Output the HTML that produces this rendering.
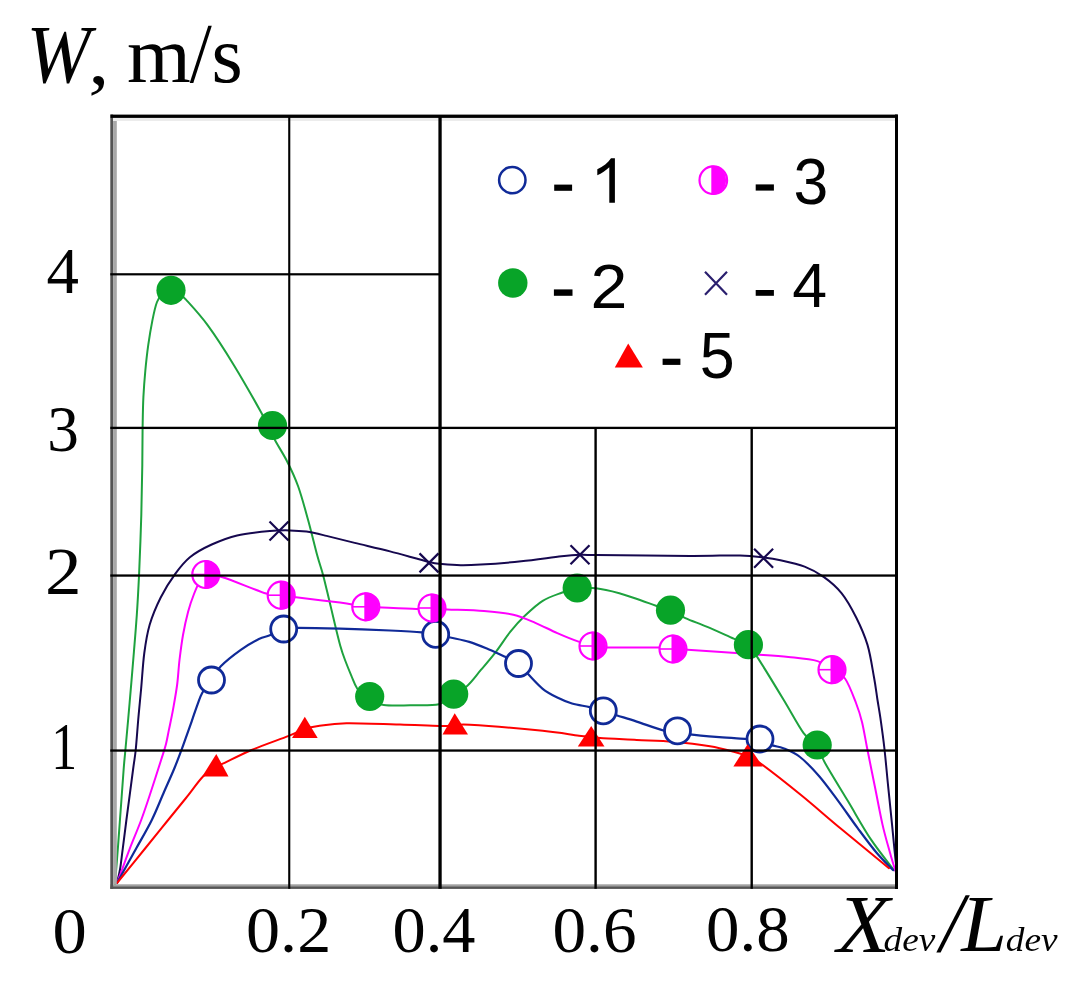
<!DOCTYPE html>
<html><head><meta charset="utf-8"><title>W chart</title><style>
html,body{margin:0;padding:0;background:#fff;}
body{width:1091px;height:991px;overflow:hidden;position:relative;}
svg{position:absolute;left:0;top:0;display:block;}
.serif{font-family:"Liberation Serif",serif;}
.sans{font-family:"Liberation Sans",sans-serif;}
</style></head><body>
<svg width="1091" height="991" viewBox="0 0 1091 991">
<rect x="0" y="0" width="1091" height="991" fill="#fff"/>
<path d="M115.0,884.0 C115.5,878.0 117.1,858.3 117.9,848.0 C118.7,837.7 118.8,835.0 119.8,822.0 C120.8,809.0 122.7,781.8 123.6,770.0 C124.5,758.2 124.3,762.2 125.3,751.0 C126.3,739.8 128.2,719.5 129.6,703.0 C131.0,686.5 132.7,666.7 133.9,652.0 C135.1,637.3 135.9,628.0 136.8,615.0 C137.7,602.0 138.3,590.7 139.1,574.0 C139.8,557.3 140.8,533.2 141.3,515.0 C141.8,496.8 142.1,479.5 142.3,465.0 C142.5,450.5 142.4,439.3 142.6,428.0 C142.8,416.7 142.9,406.5 143.4,397.0 C143.9,387.5 144.5,379.7 145.3,371.0 C146.1,362.3 147.1,353.0 148.3,344.6 C149.5,336.2 151.0,327.5 152.4,320.4 C153.8,313.3 155.2,306.6 157.0,302.0 C158.8,297.4 161.2,295.0 163.5,293.0 C165.8,291.0 168.6,290.1 171.0,290.0 C173.4,289.9 175.5,290.9 178.0,292.5 C180.5,294.1 181.0,294.2 186.0,299.7 C191.0,305.2 199.9,314.6 207.8,325.4 C215.7,336.2 224.8,350.3 233.6,364.7 C242.4,379.1 255.0,401.3 260.8,411.7 C266.6,422.1 266.0,422.1 268.5,427.0 C271.0,431.9 272.5,435.6 275.6,441.3 C278.7,447.0 283.1,453.5 286.9,461.0 C290.7,468.5 294.7,476.7 298.2,486.5 C301.7,496.3 304.9,508.5 308.1,520.0 C311.3,531.5 314.7,546.1 317.2,555.3 C319.7,564.5 321.2,567.8 323.2,575.4 C325.2,583.0 327.5,593.2 329.3,600.6 C331.1,608.0 332.1,612.5 333.9,620.0 C335.7,627.5 338.3,638.6 340.2,645.4 C342.1,652.1 343.3,655.5 345.2,660.5 C347.1,665.5 349.3,670.9 351.3,675.6 C353.3,680.3 354.5,684.6 357.3,688.7 C360.1,692.8 363.6,697.3 368.0,700.0 C372.4,702.7 376.8,704.1 383.8,705.0 C390.8,705.9 400.8,705.4 410.0,705.3 C419.2,705.2 431.9,705.9 438.9,704.3 C445.9,702.7 447.3,698.6 452.0,695.5 C456.7,692.4 462.2,690.2 467.1,685.9 C472.0,681.6 476.3,675.3 481.1,669.7 C485.9,664.1 490.8,658.5 495.7,652.1 C500.6,645.8 505.5,637.7 510.4,631.6 C515.3,625.5 519.7,620.6 525.1,615.5 C530.5,610.4 536.6,604.6 542.7,600.8 C548.8,597.0 556.0,594.8 561.7,592.7 C567.4,590.7 571.3,589.2 577.0,588.5 C582.7,587.8 588.9,587.5 595.9,588.3 C602.9,589.1 611.7,591.2 619.3,593.2 C626.9,595.2 635.2,598.4 641.3,600.5 C647.4,602.6 651.2,604.1 656.0,605.7 C660.8,607.3 665.1,607.9 670.0,610.0 C674.9,612.1 679.1,615.3 685.3,618.1 C691.5,620.9 699.2,623.5 707.3,626.9 C715.4,630.3 726.9,635.7 733.7,638.7 C740.5,641.7 744.0,641.8 748.0,645.0 C752.0,648.2 751.9,648.8 757.8,657.9 C763.7,667.0 776.0,687.2 783.6,699.8 C791.2,712.3 798.0,725.5 803.6,733.2 C809.2,740.9 813.5,741.1 817.0,746.0 C820.5,750.9 819.8,753.6 824.9,762.8 C830.0,772.0 840.2,788.3 847.9,801.1 C855.6,813.9 863.2,827.9 870.9,839.4 C878.6,850.9 890.1,865.0 893.9,870.1" fill="none" stroke="#1ea23e" stroke-width="2.0" stroke-linejoin="round" stroke-linecap="round" opacity="1"/>
<path d="M117.0,883.0 C117.5,880.8 119.0,875.3 120.0,869.5 C121.0,863.7 121.7,856.5 122.8,848.3 C123.9,840.0 124.7,833.0 126.4,820.0 C128.1,807.0 131.5,781.5 133.0,770.0 C134.5,758.5 134.7,759.3 135.6,751.0 C136.5,742.7 137.3,730.5 138.2,720.0 C139.1,709.5 140.2,699.2 141.2,688.0 C142.2,676.8 142.9,663.5 144.3,653.0 C145.7,642.5 146.9,634.2 149.6,625.0 C152.3,615.8 156.4,606.1 160.7,597.5 C165.0,588.9 170.5,580.3 175.4,573.6 C180.3,566.9 183.9,562.1 189.9,557.2 C195.9,552.4 203.8,548.1 211.7,544.5 C219.6,540.9 227.4,537.6 237.1,535.4 C246.8,533.1 261.2,531.8 270.0,531.0 C278.8,530.2 283.7,530.3 289.8,530.4 C295.9,530.5 300.4,530.7 306.5,531.6 C312.6,532.5 318.5,534.0 326.5,535.9 C334.5,537.8 344.1,540.3 354.7,542.9 C365.3,545.5 377.6,548.2 390.0,551.4 C402.4,554.6 420.3,559.9 429.0,562.0 C437.7,564.1 436.7,563.5 442.0,564.0 C447.3,564.5 454.2,565.1 460.7,565.2 C467.2,565.3 470.7,565.2 480.8,564.6 C490.9,564.0 507.8,562.7 521.2,561.3 C534.7,559.9 551.7,557.4 561.5,556.3 C571.3,555.2 574.2,555.0 580.0,554.8 C585.8,554.6 577.7,554.9 596.0,555.1 C614.3,555.3 666.0,555.8 690.0,555.9 C714.0,556.0 727.8,555.2 740.0,555.5 C752.2,555.8 756.7,556.7 763.4,557.5 C770.1,558.3 773.5,558.7 780.4,560.2 C787.3,561.7 797.3,563.8 804.6,566.6 C811.9,569.4 817.8,572.7 824.0,577.1 C830.2,581.5 836.3,586.6 841.7,593.3 C847.1,600.0 851.9,608.9 856.2,617.5 C860.5,626.1 864.5,634.9 867.5,644.9 C870.5,654.9 872.3,668.0 874.0,677.2 C875.7,686.4 876.4,693.1 877.5,700.0 C878.6,706.9 879.4,710.8 880.5,718.7 C881.6,726.6 883.0,736.3 884.3,747.5 C885.6,758.7 886.8,773.0 888.1,785.8 C889.4,798.6 890.9,812.9 892.0,824.1 C893.1,835.3 894.0,844.8 894.8,852.8 C895.6,860.8 896.6,868.8 897.0,872.0" fill="none" stroke="#16084f" stroke-width="2.0" stroke-linejoin="round" stroke-linecap="round" opacity="1"/>
<path d="M117.0,883.0 C117.8,880.8 119.9,875.3 122.1,869.5 C124.2,863.7 126.7,856.5 129.9,848.3 C133.1,840.0 137.9,828.9 141.2,820.0 C144.5,811.1 146.5,805.0 149.8,795.0 C153.1,785.0 158.4,768.5 161.1,760.0 C163.8,751.5 164.7,749.1 166.0,744.0 C167.3,738.9 167.8,735.2 169.0,729.4 C170.2,723.6 171.8,716.6 173.1,709.2 C174.4,701.8 176.0,693.2 177.1,685.0 C178.2,676.8 178.5,668.3 179.5,660.0 C180.5,651.7 181.6,643.0 183.0,635.0 C184.4,627.0 186.3,618.5 188.1,611.7 C189.9,604.9 192.0,599.1 194.0,594.0 C196.0,588.9 198.0,584.1 200.0,581.0 C202.0,577.9 202.2,576.1 206.0,575.5 C209.8,574.9 212.6,574.2 222.6,577.2 C232.6,580.2 256.4,590.5 266.2,593.5 C276.0,596.5 275.9,594.5 281.2,595.2 C286.5,595.9 288.2,596.3 298.0,597.5 C307.8,598.7 328.7,601.1 340.0,602.6 C351.3,604.1 358.7,606.0 365.8,606.8 C372.9,607.6 374.0,607.1 382.4,607.5 C390.8,607.9 408.0,608.8 416.3,609.0 C424.6,609.2 426.8,608.4 432.0,608.5 C437.2,608.6 438.7,609.1 447.4,609.5 C456.1,609.9 473.0,610.2 484.0,611.1 C495.0,612.0 504.7,612.8 513.3,614.7 C521.8,616.7 528.0,619.7 535.3,622.8 C542.6,625.9 550.0,629.9 557.3,633.1 C564.6,636.3 573.3,639.8 579.3,641.9 C585.2,644.0 588.3,645.1 593.0,646.0 C597.7,646.9 596.6,647.2 607.6,647.5 C618.6,647.8 648.0,647.3 658.9,647.5 C669.8,647.7 668.2,648.2 673.0,648.6 C677.8,649.0 674.7,648.8 687.5,649.7 C700.3,650.6 733.2,652.9 750.0,654.1 C766.8,655.3 777.1,655.8 788.4,657.0 C799.6,658.2 810.2,659.0 817.5,661.1 C824.8,663.2 827.4,666.6 832.0,669.5 C836.6,672.4 841.0,672.9 845.0,678.5 C849.0,684.1 853.2,695.8 856.0,703.0 C858.8,710.2 860.2,714.6 862.0,722.0 C863.8,729.4 864.9,736.9 867.0,747.5 C869.1,758.1 872.1,773.0 874.7,785.8 C877.3,798.6 879.9,812.9 882.4,824.1 C884.9,835.3 887.8,844.8 890.0,852.8 C892.2,860.8 894.8,868.8 895.8,872.0" fill="none" stroke="#ff00ff" stroke-width="2.0" stroke-linejoin="round" stroke-linecap="round" opacity="1"/>
<path d="M117.0,883.0 C120.2,877.2 130.5,858.8 136.3,848.3 C142.1,837.8 147.2,829.4 151.8,820.0 C156.4,810.6 160.2,800.7 164.0,792.0 C167.8,783.3 171.6,775.1 174.5,768.0 C177.4,760.9 179.5,755.1 181.6,749.6 C183.7,744.1 185.1,739.8 186.8,735.1 C188.5,730.4 189.9,726.3 191.7,721.3 C193.4,716.3 195.6,709.9 197.3,705.2 C199.1,700.5 199.8,697.2 202.2,693.0 C204.6,688.8 208.4,684.5 211.5,680.0 C214.6,675.5 215.9,671.2 220.8,666.2 C225.7,661.2 234.5,654.3 240.8,649.8 C247.2,645.3 254.1,641.4 258.9,639.0 C263.7,636.6 265.7,637.0 269.8,635.3 C273.9,633.6 279.0,630.2 283.7,629.0 C288.4,627.8 288.6,627.8 298.0,627.8 C307.4,627.8 324.7,628.2 340.0,628.7 C355.3,629.2 376.4,629.9 390.0,630.5 C403.6,631.1 414.3,631.6 421.9,632.3 C429.5,632.9 431.0,633.5 435.7,634.4 C440.4,635.3 444.7,636.2 450.3,637.5 C455.9,638.8 463.0,639.9 469.3,641.9 C475.6,643.9 482.5,646.8 488.4,649.2 C494.3,651.6 499.5,654.1 504.5,656.5 C509.5,658.9 514.3,660.3 518.5,663.5 C522.7,666.7 525.5,671.4 529.5,675.6 C533.5,679.8 538.1,685.1 542.7,688.8 C547.3,692.5 552.4,695.1 557.3,697.6 C562.2,700.1 566.6,701.9 572.0,703.5 C577.4,705.1 584.4,705.9 589.6,707.1 C594.8,708.3 598.8,709.4 603.3,710.8 C607.8,712.1 610.9,713.4 616.5,715.2 C622.1,717.0 628.8,719.0 636.7,721.6 C644.7,724.2 657.4,729.0 664.2,730.7 C671.0,732.4 673.2,731.2 677.5,731.8 C681.8,732.4 682.8,733.5 689.8,734.4 C696.8,735.3 709.7,736.4 719.2,737.2 C728.7,738.0 740.0,738.5 746.7,739.0 C753.4,739.5 755.2,738.9 759.5,740.0 C763.8,741.1 768.3,744.0 772.3,745.4 C776.3,746.8 778.7,746.3 783.3,748.2 C787.9,750.1 794.0,752.3 800.0,757.0 C806.0,761.7 812.8,768.9 819.2,776.2 C825.6,783.6 831.9,792.5 838.3,801.1 C844.7,809.7 851.1,819.3 857.5,827.9 C863.9,836.5 870.7,845.8 876.6,852.8 C882.5,859.8 890.3,867.2 893.0,870.1" fill="none" stroke="#102a98" stroke-width="2.2" stroke-linejoin="round" stroke-linecap="round" opacity="1"/>
<path d="M117.0,883.0 C121.8,877.2 137.2,858.2 145.5,848.0 C153.8,837.8 159.8,830.3 166.5,822.0 C173.2,813.7 179.9,805.6 186.0,798.0 C192.1,790.4 198.0,781.7 203.0,776.5 C208.0,771.3 212.4,769.3 216.0,767.0 C219.6,764.7 218.7,765.7 224.6,762.9 C230.5,760.1 240.9,754.5 251.6,750.0 C262.3,745.5 279.9,739.4 288.8,735.9 C297.7,732.4 299.8,730.6 304.7,729.0 C309.6,727.4 311.2,727.0 318.2,726.0 C325.2,725.0 332.9,723.5 346.5,723.2 C360.1,723.0 384.5,724.0 400.0,724.5 C415.5,725.0 430.6,725.8 439.7,726.0 C448.8,726.2 449.6,725.7 454.7,725.5 C459.8,725.3 455.3,723.8 470.0,724.7 C484.7,725.6 524.5,729.0 542.7,730.8 C560.9,732.6 570.9,734.8 579.0,735.7 C587.1,736.7 587.7,736.1 591.2,736.5 C594.7,736.9 592.4,737.5 600.0,738.1 C607.6,738.7 624.5,739.3 636.7,739.9 C648.9,740.5 661.1,740.6 673.3,741.7 C685.5,742.8 699.9,744.6 710.0,746.3 C720.1,748.0 727.7,750.2 733.8,751.8 C739.9,753.4 742.3,754.1 746.7,756.0 C751.1,757.9 751.0,756.5 760.0,763.0 C769.0,769.5 787.5,784.0 801.0,795.0 C814.5,806.0 826.6,816.8 841.3,829.0 C856.0,841.2 881.0,861.7 889.0,868.2" fill="none" stroke="#ff0000" stroke-width="2.0" stroke-linejoin="round" stroke-linecap="round" opacity="1"/>
<circle cx="171" cy="290.3" r="14.6" fill="#08a428"/>
<circle cx="272.5" cy="425.5" r="14.6" fill="#08a428"/>
<circle cx="369.7" cy="696.5" r="14.6" fill="#08a428"/>
<circle cx="453.7" cy="694.1" r="14.6" fill="#08a428"/>
<circle cx="577.2" cy="588" r="14.6" fill="#08a428"/>
<circle cx="670.5" cy="610.2" r="14.6" fill="#08a428"/>
<circle cx="748.4" cy="644.7" r="14.6" fill="#08a428"/>
<circle cx="817.2" cy="745" r="14.6" fill="#08a428"/>
<circle cx="211.5" cy="680" r="13" fill="#fff" stroke="#102a98" stroke-width="2.8"/>
<circle cx="283.7" cy="629" r="13" fill="#fff" stroke="#102a98" stroke-width="2.8"/>
<circle cx="435.7" cy="634.4" r="13" fill="#fff" stroke="#102a98" stroke-width="2.8"/>
<circle cx="518.5" cy="663.5" r="13" fill="#fff" stroke="#102a98" stroke-width="2.8"/>
<circle cx="603.3" cy="710.8" r="13" fill="#fff" stroke="#102a98" stroke-width="2.8"/>
<circle cx="677.5" cy="730.8" r="13" fill="#fff" stroke="#102a98" stroke-width="2.8"/>
<circle cx="760" cy="739" r="13" fill="#fff" stroke="#102a98" stroke-width="2.8"/>
<circle cx="205.8" cy="574.5" r="13.5" fill="#fff" stroke="#ff00ff" stroke-width="2.2"/>
<path d="M204.3,560.0 A14.5,14.5 0 0 1 204.3,589.0 Z" fill="#ff00ff"/>
<path d="M192.3,574.5 H205.8" stroke="#ff00ff" stroke-width="1.6"/>
<circle cx="281.2" cy="595.2" r="13.5" fill="#fff" stroke="#ff00ff" stroke-width="2.2"/>
<path d="M279.7,580.7 A14.5,14.5 0 0 1 279.7,609.7 Z" fill="#ff00ff"/>
<path d="M267.7,595.2 H281.2" stroke="#ff00ff" stroke-width="1.6"/>
<circle cx="365.8" cy="606.8" r="13.5" fill="#fff" stroke="#ff00ff" stroke-width="2.2"/>
<path d="M364.3,592.3 A14.5,14.5 0 0 1 364.3,621.3 Z" fill="#ff00ff"/>
<path d="M352.3,606.8 H365.8" stroke="#ff00ff" stroke-width="1.6"/>
<circle cx="432" cy="608" r="13.5" fill="#fff" stroke="#ff00ff" stroke-width="2.2"/>
<path d="M430.5,593.5 A14.5,14.5 0 0 1 430.5,622.5 Z" fill="#ff00ff"/>
<path d="M418.5,608 H432" stroke="#ff00ff" stroke-width="1.6"/>
<circle cx="593" cy="646" r="13.5" fill="#fff" stroke="#ff00ff" stroke-width="2.2"/>
<path d="M591.5,631.5 A14.5,14.5 0 0 1 591.5,660.5 Z" fill="#ff00ff"/>
<path d="M579.5,646 H593" stroke="#ff00ff" stroke-width="1.6"/>
<circle cx="673" cy="649" r="13.5" fill="#fff" stroke="#ff00ff" stroke-width="2.2"/>
<path d="M671.5,634.5 A14.5,14.5 0 0 1 671.5,663.5 Z" fill="#ff00ff"/>
<path d="M659.5,649 H673" stroke="#ff00ff" stroke-width="1.6"/>
<circle cx="832" cy="669.7" r="13.5" fill="#fff" stroke="#ff00ff" stroke-width="2.2"/>
<path d="M830.5,655.2 A14.5,14.5 0 0 1 830.5,684.2 Z" fill="#ff00ff"/>
<path d="M818.5,669.7 H832" stroke="#ff00ff" stroke-width="1.6"/>
<path d="M269.5,521.5 L288.5,540.5 M269.5,540.5 L288.5,521.5" stroke="#16084f" stroke-width="2.2"/>
<path d="M419.5,553.4 L438.5,572.4 M419.5,572.4 L438.5,553.4" stroke="#16084f" stroke-width="2.2"/>
<path d="M570.5,545.3 L589.5,564.3 M570.5,564.3 L589.5,545.3" stroke="#16084f" stroke-width="2.2"/>
<path d="M754.1,548.7 L773.1,567.7 M754.1,567.7 L773.1,548.7" stroke="#16084f" stroke-width="2.2"/>
<path d="M216.3,753.9 L228.5,776.4 L202.2,776.4 Z" fill="#ff0000"/>
<path d="M304.8,716.7 L317.7,737.9 L292,737.9 Z" fill="#ff0000"/>
<path d="M454.7,713.3 L468,734.5 L442.5,734.5 Z" fill="#ff0000"/>
<path d="M591.2,726 L604.5,746.6 L577.8,746.6 Z" fill="#ff0000"/>
<path d="M747.6,744.2 L762.7,766.4 L733.4,766.4 Z" fill="#ff0000"/>
<rect x="110.3" y="884.3" width="787" height="2" fill="#a0a0a0"/>
<rect x="110.3" y="886.3" width="787" height="2.6" fill="#555"/>
<rect x="110.3" y="114.5" width="2.8" height="774.4" fill="#555"/>
<rect x="113.1" y="118" width="3.7" height="766.3" fill="#a8a8a8"/>
<rect x="113" y="118" width="782" height="3" fill="#ececec"/>
<rect x="110.5" y="114.6" width="787" height="3.3" fill="#000"/>
<rect x="895" y="114.5" width="3" height="774.5" fill="#000"/>
<g fill="#000">
<rect x="288.2" y="116" width="2.1" height="772.8"/>
<rect x="438.4" y="116" width="3.3" height="772.8"/>
<rect x="594.4" y="427" width="2.4" height="461.8"/>
<rect x="750.5" y="427" width="2.4" height="461.8"/>
<rect x="110.3" y="273.2" width="329" height="2.2"/>
<rect x="110.3" y="426.75" width="786" height="2.3"/>
<rect x="110.3" y="574.4" width="786" height="2.3"/>
<rect x="110.3" y="749.4" width="786" height="2.3"/>
</g>
<circle cx="512.3" cy="180.1" r="13.2" fill="#fff" stroke="#102a98" stroke-width="2.5"/>
<circle cx="713.3" cy="180.2" r="13.8" fill="#fff" stroke="#ff00ff" stroke-width="2.2"/>
<path d="M711.3,165.39999999999998 A14.8,14.8 0 0 1 711.3,195.0 Z" fill="#ff00ff"/>
<circle cx="512.8" cy="283" r="14.7" fill="#08a428"/>
<path d="M705,271.7 L727,294.7 M705,294.7 L727,271.7" stroke="#2a1f6e" stroke-width="2.2"/>
<path d="M628.2,343.6 L642.9,367.6 L614.8,367.6 Z" fill="#ff0000"/>
<rect x="554.2" y="184.6" width="17.9" height="6.2" fill="#000"/>
<rect x="755.7" y="184.4" width="18.2" height="6.2" fill="#000"/>
<rect x="553.9" y="289.4" width="18.6" height="6.4" fill="#000"/>
<rect x="755.7" y="290" width="18.2" height="5.8" fill="#000"/>
<rect x="662.6" y="358.7" width="17.8" height="6.2" fill="#000"/>
<g opacity="0.995">
<text transform="matrix(0.9615,0,0,1.0326,26.55,81.91)" font-family="Liberation Serif" font-style="italic" font-size="80" fill="#000">W</text>
<text transform="matrix(1.0583,0,0,0.9415,88.32,83.77)" font-family="Liberation Serif" font-style="normal" font-size="80" fill="#000">,</text>
<text transform="matrix(1.0262,0,0,1.0146,127.1,81.9)" font-family="Liberation Serif" font-style="normal" font-size="80" fill="#000">m</text>
<text transform="matrix(1.004,0,0,1.0052,211.44,82.15)" font-family="Liberation Serif" font-style="normal" font-size="80" fill="#000">s</text>
<text transform="matrix(1.0151,0,0,1.0381,46.53,292.9)" font-family="Liberation Serif" font-style="normal" font-size="64" fill="#000">4</text>
<text transform="matrix(0.9887,0,0,1.0292,47.23,451.19)" font-family="Liberation Serif" font-style="normal" font-size="64" fill="#000">3</text>
<text transform="matrix(1.1417,0,0,1.0414,45.06,594.2)" font-family="Liberation Serif" font-style="normal" font-size="64" fill="#000">2</text>
<text transform="matrix(0.8089,0,0,1.0414,51.15,769.3)" font-family="Liberation Serif" font-style="normal" font-size="64" fill="#000">1</text>
<text transform="matrix(1.0704,0,0,1.0116,52.52,953.19)" font-family="Liberation Serif" font-style="normal" font-size="64" fill="#000">0</text>
<text transform="matrix(1.0649,0,0,1.023,246.04,952.18)" font-family="Liberation Serif" font-style="normal" font-size="64" fill="#000">0.2</text>
<text transform="matrix(1.0366,0,0,1.023,392.51,952.18)" font-family="Liberation Serif" font-style="normal" font-size="64" fill="#000">0.4</text>
<text transform="matrix(1.0503,0,0,1.023,552.47,952.18)" font-family="Liberation Serif" font-style="normal" font-size="64" fill="#000">0.6</text>
<text transform="matrix(1.0453,0,0,1.0115,706.09,950.79)" font-family="Liberation Serif" font-style="normal" font-size="64" fill="#000">0.8</text>
<text transform="matrix(1.0876,0,0,1.0267,836.99,951.6)" font-family="Liberation Serif" font-style="italic" font-size="80" fill="#000">X</text>
<text transform="matrix(0.5187,0,0,0.4808,883.53,951.24)" font-family="Liberation Serif" font-style="italic" font-size="72" fill="#000">dev</text>
<text transform="matrix(1.0275,0,0,1.0152,961.23,951.1)" font-family="Liberation Serif" font-style="italic" font-size="80" fill="#000">L</text>
<text transform="matrix(0.5187,0,0,0.4808,1005.83,950.74)" font-family="Liberation Serif" font-style="italic" font-size="72" fill="#000">dev</text>
<text transform="matrix(1.0085,0,0,1.0377,793.38,203.78)" font-family="Liberation Sans" font-style="normal" font-size="62" fill="#000">3</text>
<text transform="matrix(1.069,0,0,1.0173,590.59,307.9)" font-family="Liberation Sans" font-style="normal" font-size="62" fill="#000">2</text>
<text transform="matrix(1.0112,0,0,1.0188,792.28,307.2)" font-family="Liberation Sans" font-style="normal" font-size="62" fill="#000">4</text>
<text transform="matrix(1.012,0,0,1.0395,699.87,378.08)" font-family="Liberation Sans" font-style="normal" font-size="62" fill="#000">5</text>
</g>
<path d="M189.7,82.9 L193.3,82.9 L211.8,25.7 L208.3,25.7 Z" fill="#000"/>
<path d="M936.3,952.4 L940.6,952.4 L969.8,895.3 L965.6,895.3 Z" fill="#000"/>
<path d="M609.3,202.7 L614.9,202.7 L614.9,158.3 L611,158.3 C608,162.8 603.2,166.6 597.3,169.3 L597.3,175.3 C601.6,173.4 606,170.4 609.3,167.2 Z" fill="#000"/>
</svg>
</body></html>
